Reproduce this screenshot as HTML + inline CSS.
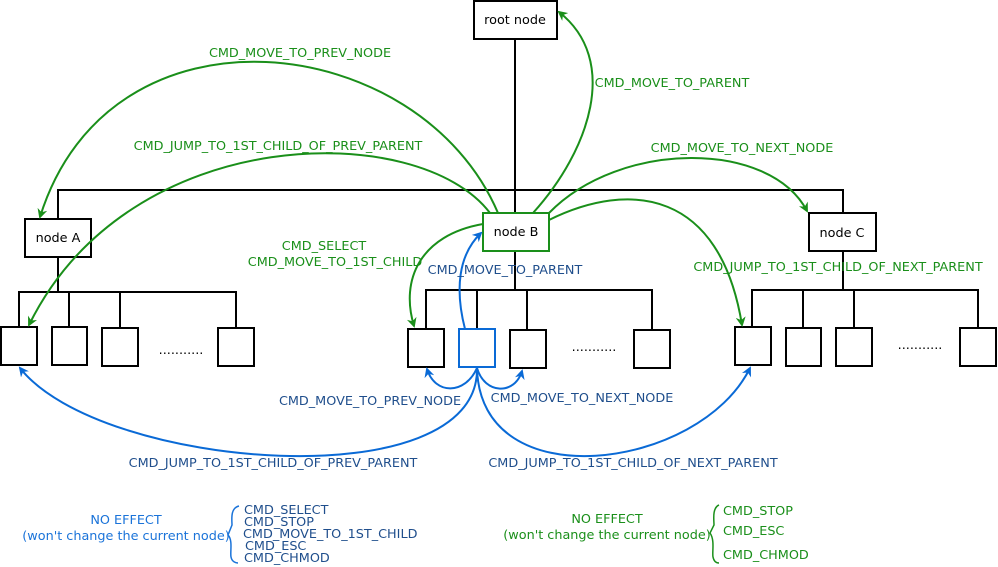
<!DOCTYPE html>
<html><head><meta charset="utf-8"><style>
html,body{margin:0;padding:0;background:#fff;}
svg{display:block;}
text{font-family:"DejaVu Sans","Liberation Sans",sans-serif;font-size:12.8px;}
.g{fill:#1a8f1a;}
.b{fill:#1f4e8c;}
.lb{fill:#1a73d9;}
</style></head><body>
<svg width="998" height="567" viewBox="0 0 998 567" xmlns="http://www.w3.org/2000/svg">
<defs>
<marker id="ag" markerWidth="10" markerHeight="10" refX="8" refY="5" orient="auto" markerUnits="userSpaceOnUse"><path d="M0,0 L10,5 L0,10 L3,5 z" fill="#1a8f1a"/></marker>
<marker id="ab" markerWidth="10" markerHeight="10" refX="8" refY="5" orient="auto" markerUnits="userSpaceOnUse"><path d="M0,0 L10,5 L0,10 L3,5 z" fill="#0a6ad6"/></marker>
</defs>
<g stroke="#000" stroke-width="2" fill="none">
<line x1="515" y1="39" x2="515" y2="213"/>
<polyline points="58,219 58,190 843,190 843,213"/>
<line x1="58" y1="257" x2="58" y2="292"/>
<polyline points="19,327 19,292 236,292 236,328"/>
<line x1="69" y1="292" x2="69" y2="327"/>
<line x1="120" y1="292" x2="120" y2="328"/>
<line x1="515" y1="251" x2="515" y2="290"/>
<polyline points="426,329 426,290 652,290 652,330"/>
<line x1="477" y1="290" x2="477" y2="329"/>
<line x1="527" y1="290" x2="527" y2="330"/>
<line x1="843" y1="251" x2="843" y2="290"/>
<polyline points="752,327 752,290 978,290 978,328"/>
<line x1="803" y1="290" x2="803" y2="328"/>
<line x1="854" y1="290" x2="854" y2="328"/>
</g>
<g stroke="#000" stroke-width="2" fill="#fff">
<rect x="474" y="1" width="83" height="38"/>
<rect x="25" y="219" width="66" height="38"/>
<rect x="809" y="213" width="67" height="38"/>
<rect x="1" y="327" width="36" height="38"/>
<rect x="52" y="327" width="35" height="38"/>
<rect x="102" y="328" width="36" height="38"/>
<rect x="218" y="328" width="36" height="38"/>
<rect x="408" y="329" width="36" height="38"/>
<rect x="510" y="330" width="36" height="38"/>
<rect x="634" y="330" width="36" height="38"/>
<rect x="735" y="327" width="36" height="38"/>
<rect x="786" y="328" width="35" height="38"/>
<rect x="836" y="328" width="36" height="38"/>
<rect x="960" y="328" width="36" height="38"/>
</g>
<rect x="483" y="213" width="66" height="38" fill="#fff" stroke="#1a8f1a" stroke-width="2"/>
<rect x="459" y="329" width="36" height="38" fill="#fff" stroke="#0a6ad6" stroke-width="2"/>
<g fill="#000">
<text x="515" y="24" text-anchor="middle">root node</text>
<text x="58" y="242" text-anchor="middle">node A</text>
<text x="516" y="236" text-anchor="middle">node B</text>
<text x="842" y="237" text-anchor="middle">node C</text>
<text x="181" y="354" text-anchor="middle">...........</text>
<text x="594" y="351" text-anchor="middle">...........</text>
<text x="920" y="349" text-anchor="middle">...........</text>
</g>
<g stroke="#1a8f1a" stroke-width="2" fill="none">
<path d="M498,213 C420,30 110,-8 40,217" marker-end="url(#ag)"/>
<path d="M490,213 C420,120 130,120 29,325" marker-end="url(#ag)"/>
<path d="M533,213 C590,150 620,60 559,12" marker-end="url(#ag)"/>
<path d="M549,213 C620,140 770,140 807,211" marker-end="url(#ag)"/>
<path d="M549,220 C630,180 720,190 742,325" marker-end="url(#ag)"/>
<path d="M483,224 C420,235 400,280 414,326" marker-end="url(#ag)"/>
</g>
<g stroke="#0a6ad6" stroke-width="2" fill="none">
<path d="M465,329 C455,290 458,255 481,233" marker-end="url(#ab)"/>
<path d="M477,368 C465,395 435,395 427,369" marker-end="url(#ab)"/>
<path d="M477,368 C485,395 515,395 522,371" marker-end="url(#ab)"/>
<path d="M477,368 C480,500 100,470 20,368" marker-end="url(#ab)"/>
<path d="M477,368 C480,500 700,470 750,368" marker-end="url(#ab)"/>
</g>
<g class="g">
<text x="300" y="57" text-anchor="middle">CMD_MOVE_TO_PREV_NODE</text>
<text x="278" y="150" text-anchor="middle">CMD_JUMP_TO_1ST_CHILD_OF_PREV_PARENT</text>
<text x="672" y="87" text-anchor="middle">CMD_MOVE_TO_PARENT</text>
<text x="742" y="152" text-anchor="middle">CMD_MOVE_TO_NEXT_NODE</text>
<text x="838" y="271" text-anchor="middle">CMD_JUMP_TO_1ST_CHILD_OF_NEXT_PARENT</text>
<text x="324" y="250" text-anchor="middle">CMD_SELECT</text>
<text x="335" y="266" text-anchor="middle">CMD_MOVE_TO_1ST_CHILD</text>
</g>
<g class="b">
<text x="505" y="274" text-anchor="middle">CMD_MOVE_TO_PARENT</text>
<text x="370" y="405" text-anchor="middle">CMD_MOVE_TO_PREV_NODE</text>
<text x="582" y="402" text-anchor="middle">CMD_MOVE_TO_NEXT_NODE</text>
<text x="273" y="467" text-anchor="middle">CMD_JUMP_TO_1ST_CHILD_OF_PREV_PARENT</text>
<text x="633" y="467" text-anchor="middle">CMD_JUMP_TO_1ST_CHILD_OF_NEXT_PARENT</text>
<text x="244" y="514">CMD_SELECT</text>
<text x="244" y="526">CMD_STOP</text>
<text x="243" y="538">CMD_MOVE_TO_1ST_CHILD</text>
<text x="245" y="550">CMD_ESC</text>
<text x="244" y="562">CMD_CHMOD</text>
</g>
<g class="lb">
<text x="126" y="524" text-anchor="middle">NO EFFECT</text>
<text x="126" y="540" text-anchor="middle">(won't change the current node)</text>
</g>
<path d="M239,506 C230,508 232,520 232,525 L228,535 C233,540 230,552 231,557 C232,562 236,563 238,563" stroke="#1a73d9" stroke-width="1.5" fill="none"/>
<g class="g">
<text x="607" y="523" text-anchor="middle">NO EFFECT</text>
<text x="607" y="539" text-anchor="middle">(won't change the current node)</text>
<text x="723" y="515">CMD_STOP</text>
<text x="723" y="535">CMD_ESC</text>
<text x="723" y="559">CMD_CHMOD</text>
</g>
<path d="M719,505 C712,508 714,520 714,525 L710,533 C715,540 712,552 713,557 C714,562 717,563 719,563" stroke="#1a8f1a" stroke-width="1.5" fill="none"/>
</svg>
</body></html>
